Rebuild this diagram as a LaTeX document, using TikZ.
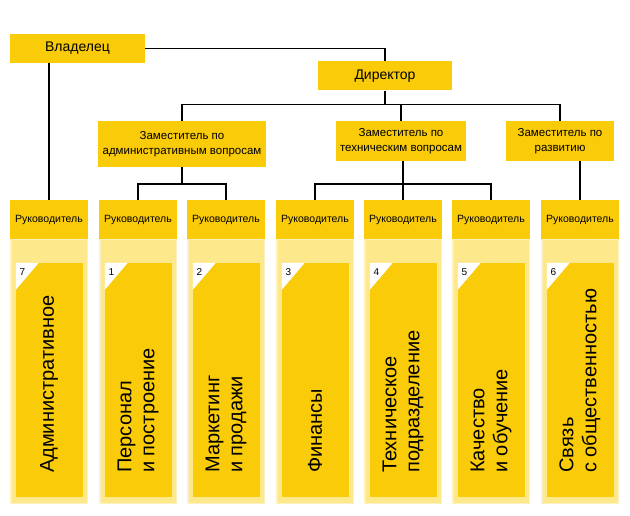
\documentclass[tikz,border=0pt]{standalone}
\usepackage{fontspec}
\setmainfont{Liberation Sans}
\usepackage{tikz}
\definecolor{mainyellow}{RGB}{250, 203, 8}
\definecolor{paleyellow}{RGB}{253, 232, 140}
\definecolor{rimyellow}{RGB}{252, 241, 192}
\usetikzlibrary{positioning, calc}

\begin{document}
\begin{tikzpicture}[x=1pt, y=-1pt,
    chiefbox/.style={fill=mainyellow, minimum width=135pt, minimum height=29pt,
                 inner sep=0pt, font=\fontsize{14}{16}\selectfont},
    deputybox/.style={fill=mainyellow, minimum height=40pt, align=center,
                 inner sep=2pt, font=\fontsize{11.5}{15}\selectfont},
    headbox/.style={fill=mainyellow, minimum width=78pt, minimum height=39pt,
                 inner sep=0pt, font=\fontsize{10.5}{12}\selectfont},
    bodybox/.style={fill=paleyellow, draw=rimyellow, line width=1.5pt,
                 minimum width=76.5pt, minimum height=263.5pt, inner sep=0pt},
    innerbox/.style={fill=mainyellow, minimum width=67pt, minimum height=234pt, inner sep=0pt},
    numtag/.style={font=\fontsize{10}{10}\selectfont, inner sep=0pt},
    deptext/.style={rotate=90, anchor=west, align=left, inner sep=0pt,
                 font=\fontsize{20}{23}\selectfont},
    link/.style={draw=black, line width=1.6pt}
]
    \useasboundingbox (0,0) rectangle (630,516);

    % Top
    \node[chiefbox] (own) at (77.5,48.5) {Владелец};
    \node[chiefbox, minimum width=134pt] (dir) at (385,76) {Директор};

    % Deputies
    \node[deputybox, minimum width=168pt, minimum height=46pt] (dep1) at (182,144)
        {Заместитель по\\административным вопросам};
    \node[deputybox, minimum width=130pt] (dep2) at (401,141)
        {Заместитель по\\техническим вопросам};
    \node[deputybox, minimum width=108pt] (dep3) at (560,141)
        {Заместитель по\\развитию};

    % Columns
    \node[bodybox] (b1) at (49,371.5) {};
    \node[bodybox] (b2) at (138,371.5) {};
    \node[bodybox] (b3) at (226,371.5) {};
    \node[bodybox] (b4) at (315,371.5) {};
    \node[bodybox] (b5) at (403,371.5) {};
    \node[bodybox] (b6) at (491,371.5) {};
    \node[bodybox] (b7) at (580,371.5) {};

    \node[headbox] (h1) at (49,219.5) {Руководитель};
    \node[headbox] (h2) at (138,219.5) {Руководитель};
    \node[headbox] (h3) at (226,219.5) {Руководитель};
    \node[headbox] (h4) at (315,219.5) {Руководитель};
    \node[headbox] (h5) at (403,219.5) {Руководитель};
    \node[headbox] (h6) at (491,219.5) {Руководитель};
    \node[headbox] (h7) at (580,219.5) {Руководитель};

    \node[innerbox] (i1) at (49.5,380) {};
    \node[innerbox] (i2) at (138.5,380) {};
    \node[innerbox] (i3) at (226.5,380) {};
    \node[innerbox] (i4) at (315.5,380) {};
    \node[innerbox] (i5) at (403.5,380) {};
    \node[innerbox] (i6) at (491.5,380) {};
    \node[innerbox] (i7) at (580.5,380) {};

    % Corner tags
    \fill[white] (i1.north west) -- ++(23,0) -- ++(-23,27) -- cycle;
    \fill[white] (i2.north west) -- ++(23,0) -- ++(-23,27) -- cycle;
    \fill[white] (i3.north west) -- ++(23,0) -- ++(-23,27) -- cycle;
    \fill[white] (i4.north west) -- ++(23,0) -- ++(-23,27) -- cycle;
    \fill[white] (i5.north west) -- ++(23,0) -- ++(-23,27) -- cycle;
    \fill[white] (i6.north west) -- ++(23,0) -- ++(-23,27) -- cycle;
    \fill[white] (i7.north west) -- ++(23,0) -- ++(-23,27) -- cycle;

    \node[numtag] (n1) at ($(i1.north west)+(6.5,9.5)$) {7};
    \node[numtag] (n2) at ($(i2.north west)+(6.5,9.5)$) {1};
    \node[numtag] (n3) at ($(i3.north west)+(6.5,9.5)$) {2};
    \node[numtag] (n4) at ($(i4.north west)+(6.5,9.5)$) {3};
    \node[numtag] (n5) at ($(i5.north west)+(6.5,9.5)$) {4};
    \node[numtag] (n6) at ($(i6.north west)+(6.5,9.5)$) {5};
    \node[numtag] (n7) at ($(i7.north west)+(6.5,9.5)$) {6};

    \node[deptext] (t1) at (49,473) {Административное};
    \node[deptext] (t2) at (138,473) {Персонал\\и построение};
    \node[deptext] (t3) at (226,473) {Маркетинг\\и продажи};
    \node[deptext] (t4) at (315,473) {Финансы};
    \node[deptext] (t5) at (403,473) {Техническое\\подразделение};
    \node[deptext] (t6) at (491,473) {Качество\\и обучение};
    \node[deptext] (t7) at (580,473) {Связь\\с общественностью};

    % Lines
    \draw[link] (own.east) -| (dir.north);
    \draw[link] (h1.north |- own.south) -- (h1.north);
    \draw[link] (dir.south) -- ++(0,14) coordinate (bus);
    \draw[link] (dep1.north) |- (bus) -| (dep3.north);
    \draw[link] (bus) -| (dep2.north);
    \draw[link] (dep1.south) -- ++(0,17) coordinate (fork1);
    \draw[link] (h2.north) |- (fork1) -| (h3.north);
    \draw[link] (h5.north |- dep2.south) -- (h5.north);
    \draw[link] (h4.north) |- (h5.north |- fork1) -| (h6.north);
    \draw[link] (h7.north |- dep3.south) -- (h7.north);
\end{tikzpicture}
\end{document}
